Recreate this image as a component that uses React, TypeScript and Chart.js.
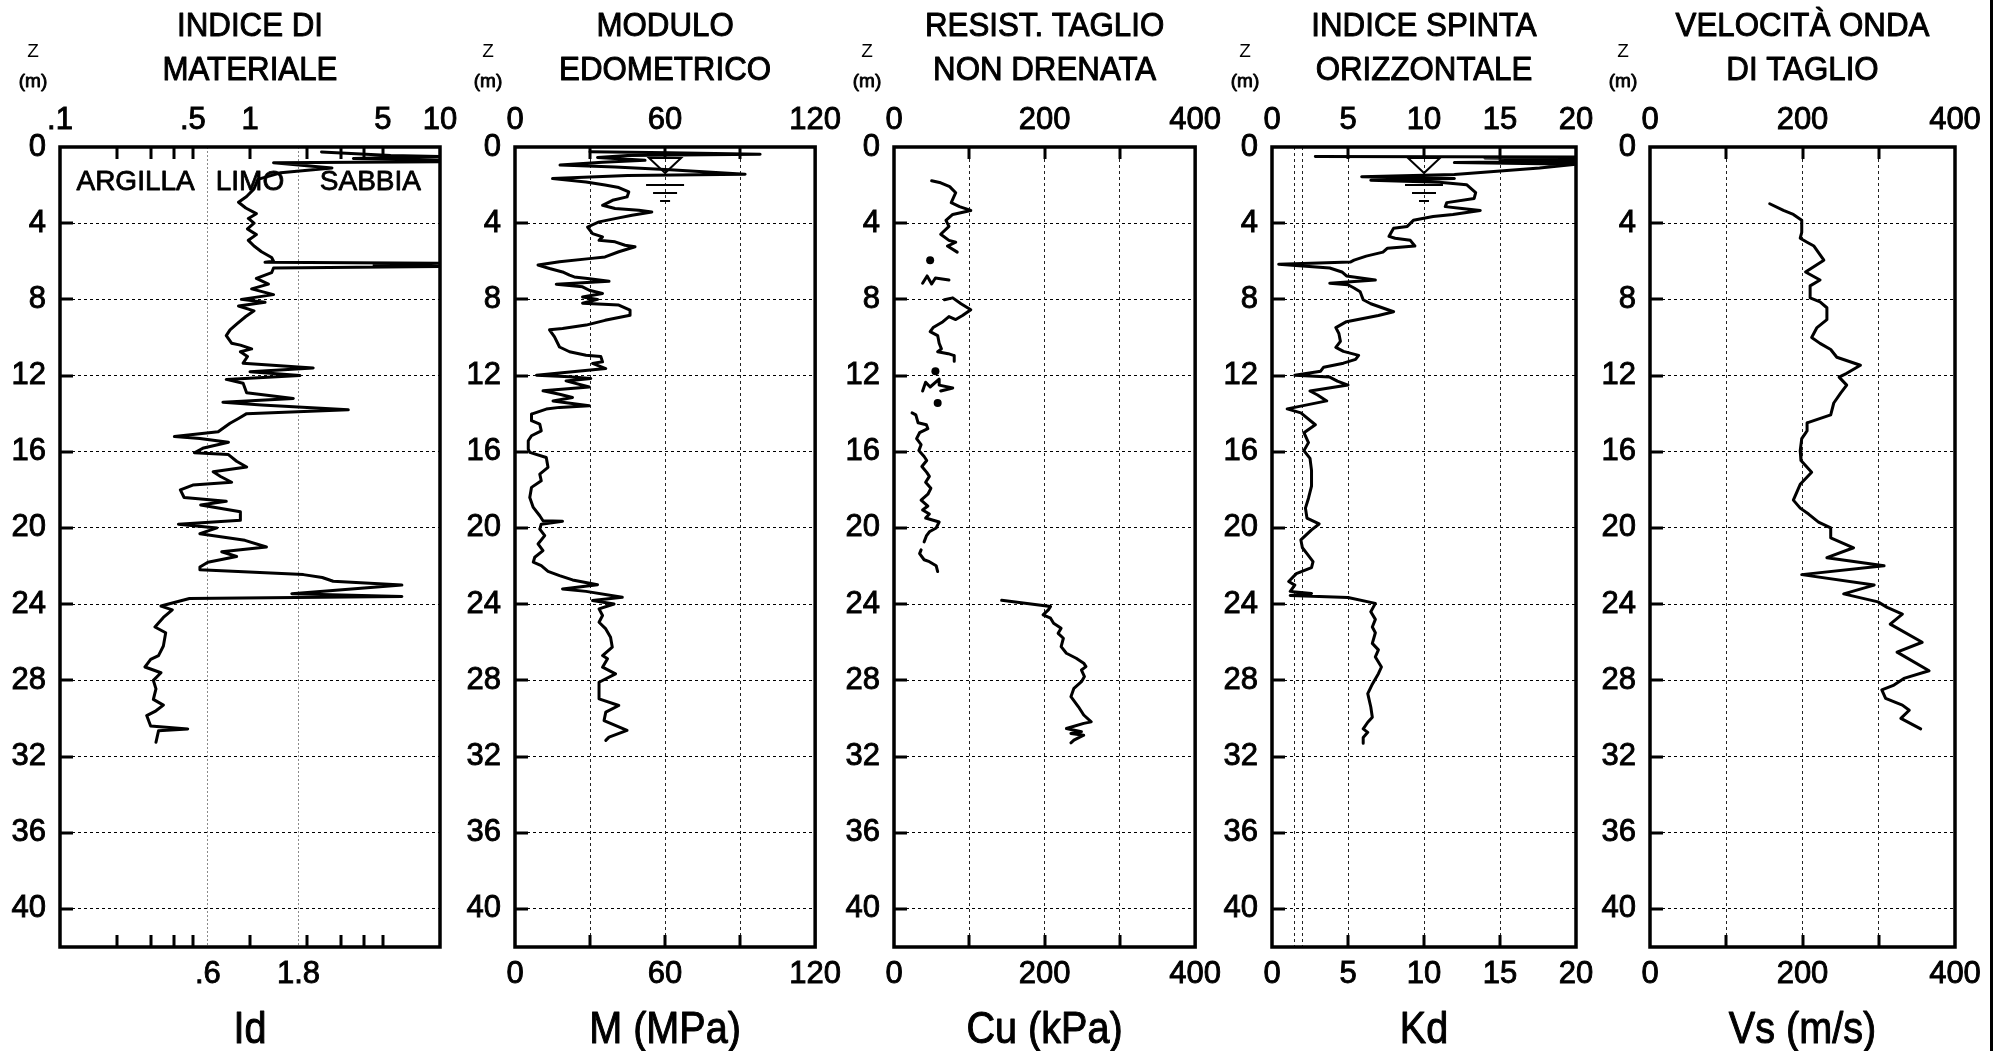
import React, { useEffect, useRef } from "react";
import { Chart, registerables } from "chart.js";

Chart.register(...registerables);

const FONT = "'Liberation Sans', Arial, Helvetica, sans-serif";
const PAGE_W = 2004;
const PAGE_H = 1051;

// ---------------- DATA ----------------
const depthTicks = [0, 4, 8, 12, 16, 20, 24, 28, 32, 36, 40];

// Indice di materiale: [depth (m), Id]
const idProfile: number[][] = [
  [0.26, 2.38], [0.45, 5.5], [0.5, 10], [0.6, 3.5], [0.68, 10], [0.78, 10], [0.83, 1.33],
  [1.1, 2.7], [1.35, 1.45], [1.7, 1.1], [2.2, 1.05], [2.6, 0.96], [2.9, 0.87], [3.2, 0.95],
  [3.5, 1.08], [3.75, 0.98], [4.0, 1.05], [4.3, 0.97], [4.6, 1.08], [4.9, 0.98], [5.2, 1.05],
  [5.5, 1.15], [5.8, 1.3], [6.0, 1.33], [6.05, 1.2], [6.1, 10], [6.2, 4.5], [6.28, 10],
  [6.35, 1.33], [6.6, 1.3], [6.9, 1.08], [7.2, 1.25], [7.45, 1.02], [7.75, 1.33], [8.0, 0.9],
  [8.15, 1.2], [8.35, 0.87], [8.6, 1.05], [8.9, 0.95], [9.3, 0.85], [9.6, 0.785], [9.9, 0.75],
  [10.3, 0.8], [10.4, 0.89], [10.6, 1.02], [10.75, 0.89], [11.0, 0.97], [11.35, 0.92],
  [11.6, 2.15], [11.8, 1.0], [12.0, 1.83], [12.2, 0.75], [12.4, 0.92], [12.9, 0.96],
  [13.2, 1.69], [13.4, 0.72], [13.55, 1.15], [13.8, 3.29], [14.0, 0.96], [14.25, 0.87],
  [14.5, 0.785], [14.95, 0.68], [15.2, 0.4], [15.3, 0.545], [15.5, 0.77], [15.8, 0.57],
  [16.05, 0.51], [16.15, 0.77], [16.5, 0.85], [16.8, 0.96], [17.05, 0.64], [17.3, 0.7],
  [17.6, 0.8], [17.75, 0.5], [18.0, 0.43], [18.4, 0.45], [18.6, 0.75], [18.8, 0.55],
  [19.15, 0.89], [19.6, 0.89], [19.8, 0.42], [20.0, 0.67], [20.3, 0.545], [20.65, 0.94],
  [21.0, 1.22], [21.25, 0.71], [21.5, 0.85], [21.8, 0.6], [22.05, 0.545], [22.2, 0.545],
  [22.45, 1.91], [22.6, 2.4], [22.8, 2.74], [23.0, 6.3], [23.45, 1.66], [23.6, 6.3],
  [23.7, 0.48], [24.1, 0.34], [24.3, 0.39], [24.7, 0.35], [25.2, 0.316], [25.5, 0.36],
  [26.2, 0.35], [26.7, 0.33], [26.9, 0.3], [27.1, 0.29], [27.3, 0.28], [27.6, 0.34],
  [28.0, 0.31], [28.45, 0.32], [29.0, 0.31], [29.3, 0.35], [29.6, 0.32], [29.85, 0.286],
  [30.4, 0.3], [30.55, 0.47], [30.65, 0.33], [31.25, 0.32],
];

// Modulo edometrico: [depth (m), M (MPa)]
const mProfile: number[][] = [
  [0.25, 30], [0.3, 62], [0.38, 98], [0.45, 45], [0.55, 33], [0.7, 52], [0.8, 35], [0.95, 18],
  [1.05, 40], [1.2, 62], [1.43, 92], [1.5, 45], [1.66, 15], [1.84, 28.4], [2.0, 36],
  [2.13, 41.5], [2.36, 45.5], [2.62, 44.8], [2.8, 39], [3.06, 35], [3.23, 40], [3.32, 49.5],
  [3.41, 54.7], [3.58, 46.8], [3.76, 40], [3.93, 33.6], [4.2, 29], [4.55, 31], [4.72, 35],
  [4.9, 33.6], [4.98, 40], [5.16, 44], [5.24, 48], [5.5, 41.5], [5.77, 36], [5.86, 29.7],
  [6.03, 17.8], [6.2, 9.2], [6.38, 13.8], [6.56, 19], [6.73, 21.8], [6.82, 23.7], [6.9, 29],
  [7.05, 37.6], [7.2, 16.5], [7.34, 27], [7.52, 29.7], [7.69, 35], [7.87, 27], [8.0, 33],
  [8.2, 27], [8.3, 41.5], [8.57, 46], [8.83, 46], [9.1, 36], [9.35, 28.4], [9.53, 19],
  [9.6, 13.8], [9.97, 15.8], [10.5, 17.8], [10.75, 21.8], [10.93, 28.4], [11.0, 34.3],
  [11.28, 35], [11.36, 31], [11.63, 36.3], [11.98, 8.6], [12.06, 21.8], [12.15, 30.3],
  [12.28, 20.4], [12.6, 29.7], [12.8, 11.2], [12.98, 17.8], [13.15, 23], [13.33, 15.2],
  [13.59, 29.7], [13.67, 17.8], [13.76, 12.5], [14.02, 6.6], [14.37, 6.6], [14.55, 9.9],
  [14.9, 10.5], [15.16, 6.6], [15.42, 5.3], [15.86, 5.3], [16.03, 5.9], [16.3, 12.5],
  [16.82, 13.2], [17.17, 9.9], [17.52, 10.5], [17.87, 6.6], [18.4, 5.9], [18.92, 7.3],
  [19.36, 9.9], [19.62, 11.2], [19.65, 19], [19.8, 10.5], [20.06, 9.9], [20.4, 11.9],
  [20.84, 9.2], [21.19, 11.2], [21.54, 7.9], [21.8, 7.3], [21.98, 10.5], [22.28, 13.2],
  [22.5, 17.8], [22.73, 23], [22.98, 33], [23.2, 19], [23.33, 28.4], [23.64, 42.9],
  [23.81, 31], [23.99, 39.6], [24.25, 33.6], [24.6, 35], [24.95, 33.6], [25.3, 36.3],
  [25.74, 38.2], [26.26, 38.9], [26.7, 35], [26.87, 37], [27.31, 35], [27.66, 40.2],
  [28.1, 33.6], [28.97, 33.6], [29.32, 41.5], [29.67, 36.3], [30.11, 35.6], [30.63, 44.8],
  [30.98, 37.6], [31.15, 36.3],
];

// Resistenza al taglio non drenata: segments [depth (m), Cu (kPa)]
const cuSegment1: number[][] = [
  [1.77, 50], [1.88, 62], [2.08, 74], [2.4, 82], [2.92, 76], [3.13, 87], [3.33, 102],
  [3.54, 78], [3.85, 69], [4.17, 73], [4.58, 62], [4.9, 73], [5.0, 82], [5.2, 71], [5.52, 84],
];
const cuSegment2: number[][] = [[7.15, 38], [6.77, 44], [7.19, 50], [6.88, 55], [6.98, 73]];
const cuSegment3: number[][] = [
  [8.02, 67], [7.92, 78], [8.23, 89], [8.54, 102], [8.85, 91], [9.06, 82], [8.9, 73],
  [9.17, 65], [9.48, 52], [9.69, 48], [9.9, 58], [10.3, 60], [10.6, 63], [10.75, 58],
  [10.85, 72], [10.95, 80], [11.25, 80],
];
const cuSegment4: number[][] = [
  [12.81, 38], [12.35, 42], [12.6, 48], [12.19, 60], [12.5, 60], [12.65, 78], [12.81, 62],
];
const cuSegment5: number[][] = [
  [13.96, 24], [14.06, 29], [14.48, 32], [14.58, 43], [14.79, 45], [15.0, 34], [15.31, 30],
  [15.63, 36], [15.94, 33], [16.25, 40], [16.46, 43.5], [16.77, 37], [17.08, 43.5],
  [17.29, 47], [17.6, 42], [17.92, 49], [18.23, 45], [18.54, 36], [18.85, 45], [19.06, 38],
  [19.27, 47], [19.48, 42], [19.69, 60], [20.0, 56], [20.2, 47], [20.42, 43], [20.73, 40],
];
const cuSegment6: number[][] = [
  [21.15, 36], [21.35, 34], [21.67, 40], [21.77, 47], [21.98, 56], [22.29, 58],
];
const cuSegment7: number[][] = [
  [23.8, 143], [24.12, 208], [24.3, 205], [24.56, 198], [24.74, 208], [25.0, 212],
  [25.26, 222], [25.53, 218], [25.79, 225], [26.23, 222], [26.58, 229], [26.84, 242],
  [27.1, 252], [27.28, 255], [27.46, 249], [27.8, 253], [28.07, 249], [28.42, 239],
  [28.86, 235], [29.39, 245], [29.82, 252], [30.18, 262], [30.26, 252], [30.53, 229],
  [30.7, 249], [30.79, 235], [30.88, 252], [31.14, 239], [31.28, 235],
];
const cuPoints: number[][] = [[5.94, 48], [11.77, 55], [13.44, 58]];

// Indice spinta orizzontale: [depth (m), Kd]
const kdProfile: number[][] = [
  [0.5, 2.85], [0.52, 20], [0.58, 14], [0.63, 20], [0.68, 15], [0.75, 20], [0.82, 12],
  [0.9, 20], [1.1, 17.6], [1.45, 12], [1.56, 5.9], [1.65, 12], [1.75, 6.5], [1.85, 11],
  [1.98, 12.8], [2.4, 13.4], [2.7, 13.3], [2.92, 11.5], [3.13, 11.4], [3.23, 12.5],
  [3.33, 13.7], [3.54, 11.9], [3.65, 10.6], [3.85, 9.3], [4.17, 8.9], [4.27, 8.0],
  [4.69, 7.7], [4.79, 8.1], [4.9, 9.1], [5.2, 9.4], [5.31, 7.6], [5.52, 7.3], [5.73, 6.2],
  [5.94, 5.4], [6.04, 5.15], [6.15, 0.44], [6.35, 3.8], [6.56, 4.6], [6.77, 4.9],
  [6.98, 6.8], [7.15, 3.8], [7.23, 5.0], [7.4, 5.4], [7.6, 5.8], [8.02, 6.0], [8.23, 6.5],
  [8.65, 8.0], [8.85, 7.0], [9.17, 4.9], [9.48, 4.2], [9.79, 4.4], [10.2, 4.5],
  [10.52, 4.2], [10.73, 4.7], [10.94, 5.7], [11.15, 5.5], [11.35, 4.7], [11.56, 3.4],
  [11.77, 3.2], [11.98, 1.5], [12.08, 3.8], [12.29, 4.3], [12.5, 5.0], [12.81, 2.5],
  [13.02, 3.0], [13.33, 3.6], [13.75, 1.0], [13.96, 1.9], [14.58, 2.85], [15.0, 2.1],
  [15.52, 2.4], [15.94, 2.1], [16.35, 2.5], [16.98, 2.6], [17.81, 2.6], [18.44, 2.4],
  [18.96, 2.2], [19.48, 2.3], [19.79, 3.1], [20.1, 2.6], [20.63, 1.9], [21.04, 2.0],
  [21.35, 2.3], [21.77, 2.7], [22.08, 2.6], [22.4, 1.6], [22.81, 1.1], [23.0, 1.5],
  [23.33, 1.2], [23.44, 2.6], [23.54, 1.2], [23.65, 5.0], [23.96, 6.8], [24.4, 6.5],
  [24.8, 6.8], [25.2, 6.6], [25.5, 6.8], [26.06, 6.6], [26.4, 7.0], [26.77, 6.8],
  [27.3, 7.2], [27.65, 7.0], [28.2, 6.6], [28.7, 6.3], [29.4, 6.5], [29.94, 6.6],
  [30.2, 6.3], [30.55, 6.0], [30.73, 6.3], [31.0, 6.0], [31.3, 6.0],
];

// Velocita onda di taglio: [depth (m), Vs (m/s)]
const vsProfile: number[][] = [
  [2.98, 157], [3.33, 175], [3.54, 188], [3.85, 199], [4.48, 199], [4.79, 197], [5.0, 206],
  [5.2, 215], [5.94, 228], [6.56, 204], [6.98, 223], [7.29, 210], [7.92, 210], [8.13, 223],
  [8.44, 232], [9.06, 232], [9.48, 219], [10.0, 212], [10.31, 223], [10.63, 237],
  [11.04, 245], [11.46, 276], [11.88, 258], [12.08, 248], [12.5, 258], [12.92, 250],
  [13.44, 241], [14.06, 237], [14.48, 206], [14.9, 206], [15.31, 199], [15.94, 197],
  [16.46, 198], [17.08, 212], [17.71, 197], [18.54, 188], [18.96, 197], [19.27, 208],
  [19.69, 221], [20.0, 237], [20.52, 237], [21.04, 267], [21.56, 232], [21.99, 307],
  [22.45, 199], [23.0, 294], [23.46, 254], [23.88, 299], [24.17, 311], [24.52, 331],
  [25.05, 315], [26.0, 357], [26.52, 324], [27.5, 366], [27.9, 333], [28.25, 320],
  [28.5, 304], [28.95, 309], [29.3, 331], [29.57, 340], [30.0, 329], [30.55, 355],
];

// Water table marker and soil class labels
const waterTableDepth = 1.37;
const waterTableM = 60;
const waterTableKd = 10;
const soilLabels = ["ARGILLA", "LIMO", "SABBIA"];
const soilLabelId = [0.25, 1.0, 4.3];
const soilLabelDepth = 1.72;

// Axis tick / label values
const idTopTicks = [0.1, 0.5, 1, 5, 10];
const idTopLabels = [".1", ".5", "1", "5", "10"];
const idBottomTicks = [0.6, 1.8];
const idBottomLabels = [".6", "1.8"];
const idMinorTicks = [0.2, 0.3, 0.4, 0.5, 1, 2, 3, 4, 5];
const mTicks = [0, 30, 60, 90, 120];
const mLabels = ["0", "", "60", "", "120"];
const cuTicks = [0, 100, 200, 300, 400];
const cuLabels = ["0", "", "200", "", "400"];
const kdTopTicks = [0, 5, 10, 15, 20];
const kdTopLabels = ["0", "5", "10", "15", "20"];
const kdBottomTicks = [0, 1.5, 2, 5, 10, 15, 20];
const kdBottomLabels = ["0", "", "", "5", "10", "15", "20"];
const vsTicks = [0, 100, 200, 300, 400];
const vsLabels = ["0", "", "200", "", "400"];

// ---------------- CONFIG ----------------
type Panel = {
  key: string;
  xType: "linear" | "logarithmic";
  min: number;
  max: number;
  canvasLeft: number;
  canvasW: number;
  padRight: number;
  topTicks: number[];
  topLabels: string[];
  bottomTicks: number[];
  bottomLabels: string[];
  grid: number[];
  gridColor: string;
  gridDash: number[];
  innerTicks: number[];
  title: string[];
  axisTitle: string;
  lines: number[][][];
  dots?: number[][];
  waterX?: number;
  soil?: boolean;
};

const panels: Panel[] = [
  {
    key: "id", xType: "logarithmic", min: 0.1, max: 10, canvasLeft: 0, canvasW: 475, padRight: 35,
    topTicks: idTopTicks, topLabels: idTopLabels, bottomTicks: idBottomTicks, bottomLabels: idBottomLabels,
    grid: idBottomTicks, gridColor: "#8a8a8a", gridDash: [2, 2], innerTicks: idMinorTicks,
    title: ["INDICE DI", "MATERIALE"], axisTitle: "Id", lines: [idProfile], soil: true,
  },
  {
    key: "m", xType: "linear", min: 0, max: 120, canvasLeft: 455, canvasW: 395, padRight: 32,
    topTicks: mTicks, topLabels: mLabels, bottomTicks: mTicks, bottomLabels: mLabels,
    grid: [30, 60, 90], gridColor: "#222", gridDash: [3, 3], innerTicks: [30, 60, 90],
    title: ["MODULO", "EDOMETRICO"], axisTitle: "M (MPa)", lines: [mProfile], waterX: waterTableM,
  },
  {
    key: "cu", xType: "linear", min: 0, max: 400, canvasLeft: 834, canvasW: 396, padRight: 33,
    topTicks: cuTicks, topLabels: cuLabels, bottomTicks: cuTicks, bottomLabels: cuLabels,
    grid: [100, 200, 300], gridColor: "#222", gridDash: [3, 3], innerTicks: [100, 200, 300],
    title: ["RESIST. TAGLIO", "NON DRENATA"], axisTitle: "Cu (kPa)",
    lines: [cuSegment1, cuSegment2, cuSegment3, cuSegment4, cuSegment5, cuSegment6, cuSegment7],
    dots: cuPoints,
  },
  {
    key: "kd", xType: "linear", min: 0, max: 20, canvasLeft: 1212, canvasW: 396, padRight: 32,
    topTicks: kdTopTicks, topLabels: kdTopLabels, bottomTicks: kdBottomTicks, bottomLabels: kdBottomLabels,
    grid: [1.5, 2, 5, 10, 15], gridColor: "#222", gridDash: [3, 3], innerTicks: [5, 10, 15],
    title: ["INDICE SPINTA", "ORIZZONTALE"], axisTitle: "Kd", lines: [kdProfile], waterX: waterTableKd,
  },
  {
    key: "vs", xType: "linear", min: 0, max: 400, canvasLeft: 1590, canvasW: 400, padRight: 35,
    topTicks: vsTicks, topLabels: vsLabels, bottomTicks: vsTicks, bottomLabels: vsLabels,
    grid: [100, 200, 300], gridColor: "#222", gridDash: [3, 3], innerTicks: [100, 200, 300],
    title: ["VELOCITÀ ONDA", "DI TAGLIO"], axisTitle: "Vs (m/s)", lines: [vsProfile],
  },
];

const toPoints = (rows: number[][]) => rows.map((r) => ({ x: r[1], y: r[0] }));

function drawText(ctx: CanvasRenderingContext2D, s: string, x: number, cy: number, size: number, sx = 1, stroke = 0.9) {
  ctx.save();
  ctx.translate(x, cy + size * 0.358);
  ctx.scale(sx, 1);
  ctx.font = `${size}px ${FONT}`;
  ctx.textAlign = "center";
  ctx.textBaseline = "alphabetic";
  ctx.fillStyle = "#000";
  ctx.strokeStyle = "#000";
  ctx.lineJoin = "round";
  ctx.fillText(s, 0, 0);
  if (stroke > 0) {
    ctx.lineWidth = stroke;
    ctx.strokeText(s, 0, 0);
  }
  ctx.restore();
}

function decor(p: Panel) {
  return {
    id: "decor_" + p.key,
    afterDraw(chart: any) {
      const ctx: CanvasRenderingContext2D = chart.ctx;
      const a = chart.chartArea;
      const xs = chart.scales.x;
      const ys = chart.scales.y;
      ctx.save();
      ctx.strokeStyle = "#000";
      ctx.lineCap = "butt";
      // inward tick marks
      ctx.lineWidth = 3;
      ctx.beginPath();
      p.innerTicks.forEach((v) => {
        const px = Math.round(xs.getPixelForValue(v));
        ctx.moveTo(px, a.top);
        ctx.lineTo(px, a.top + 12);
        ctx.moveTo(px, a.bottom);
        ctx.lineTo(px, a.bottom - 12);
      });
      depthTicks.slice(1).forEach((d) => {
        const py = Math.round(ys.getPixelForValue(d));
        ctx.moveTo(a.left, py);
        ctx.lineTo(a.left + 13, py);
      });
      ctx.stroke();
      // frame
      ctx.lineWidth = 3.5;
      ctx.strokeRect(a.left, a.top, a.right - a.left, a.bottom - a.top);
      // water table symbol
      if (p.waterX !== undefined) {
        const px = xs.getPixelForValue(p.waterX);
        const py = ys.getPixelForValue(waterTableDepth);
        ctx.lineWidth = 2;
        ctx.beginPath();
        ctx.moveTo(px, py);
        ctx.lineTo(px - 16, py - 15);
        ctx.lineTo(px + 16, py - 15);
        ctx.closePath();
        ctx.moveTo(px - 19, py + 12);
        ctx.lineTo(px + 19, py + 12);
        ctx.moveTo(px - 12, py + 20);
        ctx.lineTo(px + 12, py + 20);
        ctx.moveTo(px - 5, py + 28);
        ctx.lineTo(px + 5, py + 28);
        ctx.stroke();
      }
      // soil class labels
      if (p.soil) {
        soilLabels.forEach((s, i) => {
          drawText(ctx, s, xs.getPixelForValue(soilLabelId[i]), ys.getPixelForValue(soilLabelDepth), 28, 1, 0.8);
        });
      }
      // titles
      const cx = (a.left + a.right) / 2;
      drawText(ctx, p.title[0], cx, 24, 34, 0.92, 1);
      drawText(ctx, p.title[1], cx, 68, 34, 0.92, 1);
      drawText(ctx, p.axisTitle, cx, 1027, 44, 0.9, 1);
      // Z (m)
      drawText(ctx, "Z", a.left - 27, 50, 19, 1, 0);
      drawText(ctx, "(m)", a.left - 27, 80, 19, 1, 0.9);
      ctx.restore();
    },
  };
}

function buildConfig(p: Panel): any {
  const tickFont = { family: FONT, size: 31 };
  const labelOf = (vals: number[], texts: string[]) => (v: any) => {
    const i = vals.findIndex((t) => Math.abs(t - Number(v)) < 1e-9);
    return i >= 0 ? texts[i] : "";
  };
  const tickText = { color: "#000", font: tickFont, textStrokeColor: "#000", textStrokeWidth: 0.9 };
  const datasets: any[] = p.lines.map((rows) => ({
    data: toPoints(rows),
    showLine: true,
    borderColor: "#000",
    backgroundColor: "#000",
    borderWidth: 3,
    pointRadius: 0,
    pointHoverRadius: 0,
    borderJoinStyle: "round",
    borderCapStyle: "round",
    tension: 0,
    xAxisID: "x",
    yAxisID: "y",
  }));
  if (p.dots) {
    datasets.push({
      data: toPoints(p.dots),
      showLine: false,
      borderColor: "#000",
      backgroundColor: "#000",
      pointRadius: 4,
      pointBorderWidth: 0,
      xAxisID: "x",
      yAxisID: "y",
    });
  }
  return {
    type: "scatter",
    data: { datasets },
    options: {
      animation: false,
      responsive: false,
      maintainAspectRatio: false,
      devicePixelRatio: 1,
      events: [],
      layout: { autoPadding: false, padding: { left: 0, top: 0, bottom: 0, right: p.padRight } },
      plugins: { legend: { display: false }, tooltip: { enabled: false }, title: { display: false } },
      scales: {
        y: {
          type: "linear",
          position: "left",
          reverse: true,
          min: 0,
          max: 42,
          afterBuildTicks: (s: any) => { s.ticks = depthTicks.map((value) => ({ value })); },
          afterFit: (s: any) => { s.width = 60; },
          grid: { color: (c: any) => (c.tick && c.tick.value > 0 ? "#000" : "rgba(0,0,0,0)"), lineWidth: 1, drawTicks: false },
          border: { display: false, dash: [3, 3] },
          ticks: { autoSkip: false, ...tickText, padding: 14, callback: (v: any) => String(v) },
        },
        x: {
          type: p.xType,
          position: "bottom",
          min: p.min,
          max: p.max,
          afterBuildTicks: (s: any) => { s.ticks = p.bottomTicks.map((value) => ({ value })); },
          afterFit: (s: any) => { s.height = 104; },
          grid: {
            color: (c: any) => (c.tick && p.grid.some((g) => Math.abs(g - c.tick.value) < 1e-9) ? p.gridColor : "rgba(0,0,0,0)"),
            lineWidth: 1,
            drawTicks: false,
          },
          border: { display: false, dash: p.gridDash },
          ticks: { autoSkip: false, maxRotation: 0, minRotation: 0, ...tickText, padding: 9, callback: labelOf(p.bottomTicks, p.bottomLabels) },
        },
        x2: {
          type: p.xType,
          position: "top",
          min: p.min,
          max: p.max,
          afterBuildTicks: (s: any) => { s.ticks = p.topTicks.map((value) => ({ value })); },
          afterFit: (s: any) => { s.height = 147; },
          grid: { display: false, drawTicks: false },
          border: { display: false },
          ticks: { autoSkip: false, maxRotation: 0, minRotation: 0, ...tickText, padding: 8, callback: labelOf(p.topTicks, p.topLabels) },
        },
      },
    },
    plugins: [decor(p)],
  };
}

function PanelChart({ panel }: { panel: Panel }) {
  const ref = useRef<HTMLCanvasElement | null>(null);
  useEffect(() => {
    if (!ref.current) return;
    const chart = new Chart(ref.current, buildConfig(panel));
    return () => chart.destroy();
  }, [panel]);
  return (
    <canvas
      ref={ref}
      width={panel.canvasW}
      height={PAGE_H}
      style={{ position: "absolute", left: panel.canvasLeft, top: 0, width: panel.canvasW, height: PAGE_H }}
    />
  );
}

export default function App() {
  return (
    <div style={{ position: "absolute", left: 0, top: 0, width: PAGE_W, height: PAGE_H, background: "#fff", overflow: "hidden" }}>
      {panels.map((p) => (
        <PanelChart key={p.key} panel={p} />
      ))}
      <div style={{ position: "absolute", left: 1990, top: 0, width: 3, height: PAGE_H, background: "#000" }} />
    </div>
  );
}
